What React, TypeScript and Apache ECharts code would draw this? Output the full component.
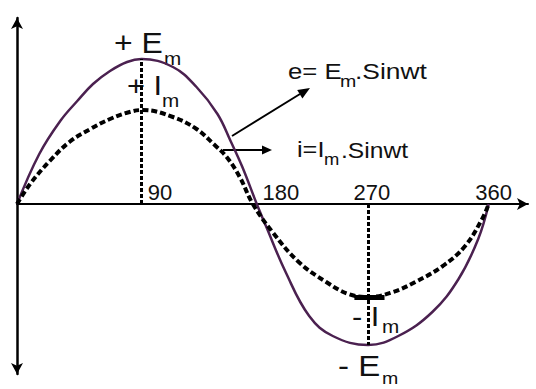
import React, { useEffect, useRef } from "react";
import * as echarts from "echarts";

// e = Em sin(wt): angle (deg) and value
const eAngles = [0, 17, 33, 46, 58, 71, 84, 95, 119, 137, 153, 163, 172, 183, 190, 205, 223, 241, 268, 291, 317, 337, 352, 360];
const eValues = [0, 50, 83, 103, 120, 133, 142, 145, 137, 117, 90, 63, 37, 0, -22, -68, -112, -132, -141, -132, -108, -75, -35, 0];

// i = Im sin(wt)
const iAngles = [0, 10, 25, 40, 56, 71, 86, 96, 119, 137, 150, 160, 170, 180, 195, 215, 236, 253, 269, 287, 304, 325, 342, 355, 360];
const iValues = [0, 20, 43, 62, 75, 85, 92, 94, 87, 75, 60, 47, 27, 0, -28, -58, -78, -90, -93, -88, -78, -62, -42, -15, 0];

const xTicks = [90, 180, 270, 360];
const xTickLabels = ["90", "180", "270", "360"];

const FONT = "'Liberation Sans', Arial, sans-serif";

export default function App() {
  const ref = useRef<HTMLDivElement>(null);
  useEffect(() => {
    if (!ref.current) return;
    const chart = echarts.init(ref.current, null, { renderer: "svg" });
    const eData = eAngles.map((a, k) => [a, eValues[k]]);
    const iData = iAngles.map((a, k) => [a, iValues[k]]);
    const eMaxIdx = eValues.indexOf(Math.max(...eValues));
    const eMinIdx = eValues.indexOf(Math.min(...eValues));
    const iMinIdx = iValues.indexOf(Math.min(...iValues));
    const pads = [50, 56, 2, 10];
    const rich: any = {};
    xTickLabels.forEach((_, k) => {
      rich["t" + k] = { fontSize: 22, fontFamily: FONT, color: "#111", padding: [0, 0, 0, pads[k]] };
    });
    const txt = (text: string, x: number, y: number, size: number, sx = 1.15) => ({
      type: "text",
      x,
      y,
      scaleX: sx,
      style: { text, fontSize: size, fontFamily: FONT, fill: "#111", verticalAlign: "middle", align: "left" },
    });
    chart.setOption({
      animation: false,
      backgroundColor: "#fff",
      grid: { left: 17, top: 18, width: 511, height: 356, containLabel: false },
      xAxis: {
        type: "value",
        min: 0,
        max: 390,
        interval: 90,
        offset: -170,
        axisLine: { onZero: false, symbol: ["none", "arrow"], symbolSize: [9, 11], lineStyle: { color: "#000", width: 2 } },
        axisTick: { show: false },
        splitLine: { show: false },
        axisLabel: {
          inside: true,
          margin: 1,
          showMinLabel: false,
          showMaxLabel: false,
          formatter: (v: number) => {
            const k = xTicks.indexOf(v);
            return k < 0 ? "" : `{t${k}|${xTickLabels[k]}}`;
          },
          rich,
        },
      },
      yAxis: {
        type: "value",
        min: -170,
        max: 186,
        axisLine: { onZero: true, symbol: ["arrow", "arrow"], symbolSize: [9, 11], lineStyle: { color: "#000", width: 2.5 } },
        axisTick: { show: false },
        axisLabel: { show: false },
        splitLine: { show: false },
      },
      series: [
        {
          type: "line",
          data: eData,
          smooth: 0.4,
          symbol: "none",
          lineStyle: { color: "#4b2150", width: 2.5 },
          markLine: {
            silent: true,
            symbol: "none",
            label: { show: false },
            lineStyle: { color: "#000", width: 3, type: [4, 2] },
            data: [
              [{ coord: [eAngles[eMaxIdx], 0] }, { coord: [eAngles[eMaxIdx], eValues[eMaxIdx]] }],
              [{ coord: [eAngles[eMinIdx], 0] }, { coord: [eAngles[eMinIdx], eValues[eMinIdx]] }],
            ],
          },
        },
        {
          type: "line",
          data: iData,
          smooth: 0.4,
          symbol: "none",
          lineStyle: { color: "#000", width: 4, type: [6, 3] },
          markLine: {
            silent: true,
            symbol: "none",
            label: { show: false },
            lineStyle: { color: "#000", width: 5, type: "solid" },
            data: [
              [
                { coord: [iAngles[iMinIdx] - 11.5, iValues[iMinIdx]] },
                { coord: [iAngles[iMinIdx] + 11.5, iValues[iMinIdx]] },
              ],
            ],
          },
        },
      ],
      graphic: [
        txt("+ E", 114, 43, 29, 1.1),
        txt("m", 164, 58.5, 18),
        txt("+ I", 127, 85, 28, 1.1),
        txt("m", 162, 101, 18),
        txt("e= E", 288, 71, 22, 1.17),
        txt("m", 340, 81, 17),
        txt(".Sinwt", 355, 71, 22, 1.2),
        txt("i=I", 297, 150, 22, 1.15),
        txt("m", 324, 159.5, 16),
        txt(".Sinwt", 341, 150, 22, 1.12),
        txt("- I", 352, 316, 28, 1.1),
        txt("m", 382, 326.5, 18),
        txt("- E", 338, 366, 30, 1.1),
        txt("m", 382, 378, 17),
        { type: "line", shape: { x1: 232, y1: 136, x2: 300, y2: 94 }, style: { stroke: "#000", lineWidth: 2 } },
        { type: "polygon", shape: { points: [[310, 88], [302.4, 98.5], [297.2, 90]] }, style: { fill: "#000" } },
        { type: "line", shape: { x1: 223, y1: 150, x2: 263, y2: 150 }, style: { stroke: "#000", lineWidth: 2 } },
        { type: "polygon", shape: { points: [[272, 150], [262, 145.5], [262, 154.5]] }, style: { fill: "#000" } },
      ],
    });
    return () => chart.dispose();
  }, []);
  return <div ref={ref} style={{ position: "fixed", left: 0, top: 0, width: 536, height: 389 }} />;
}
